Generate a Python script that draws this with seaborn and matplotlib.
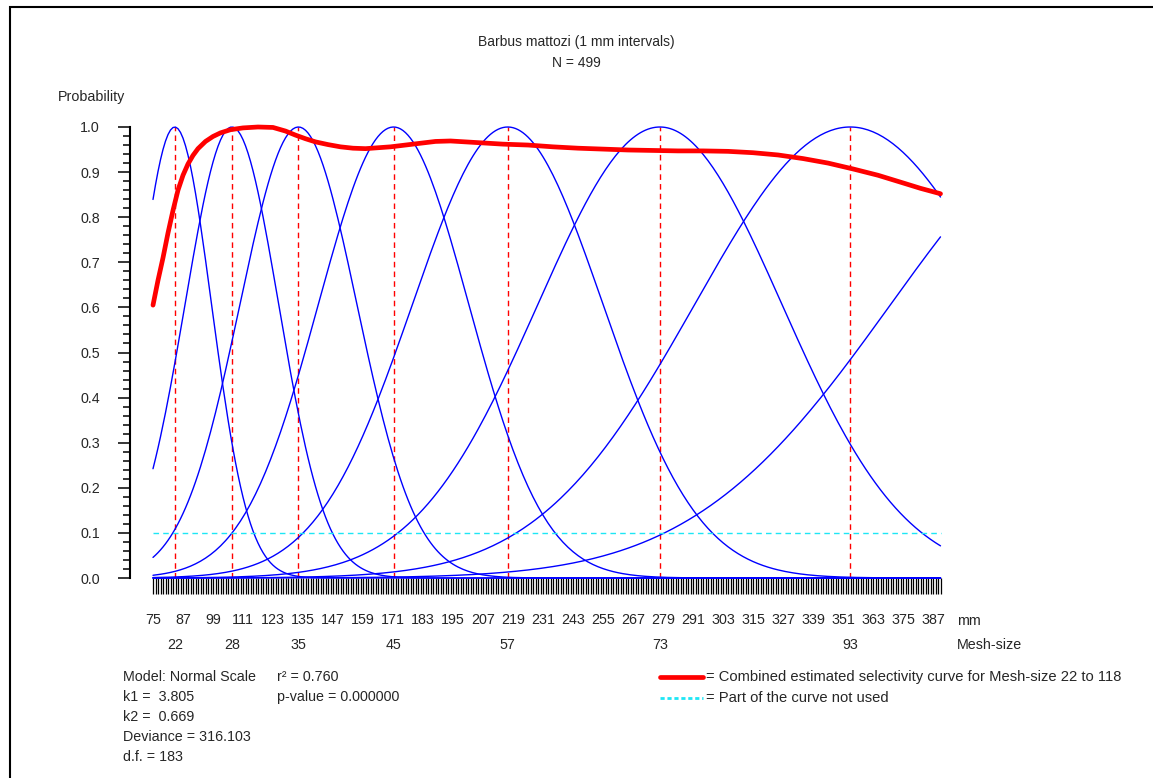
import numpy as np
import pandas as pd
import matplotlib
matplotlib.use("Agg")
import matplotlib.pyplot as plt
import seaborn as sns
from matplotlib.lines import Line2D
from matplotlib.patches import Rectangle

# ---------------- data ----------------
title = "Barbus mattozi (1 mm intervals)"
n_fish = 499
mesh_sizes = [22, 28, 35, 45, 57, 73, 93, 118]
k1 = 3.805
k2 = 0.669
length_min, length_max = 75, 390
length_ticks = list(range(75, 388, 12))

# combined estimated selectivity curve
comb_len = [75, 77, 79, 81, 83, 85, 87, 89, 91, 93, 96, 99, 102, 106, 111, 117,
            123, 128, 132, 136, 140, 145, 150, 155, 160, 165, 170, 176, 182, 188,
            194, 200, 206, 215, 225, 235, 245, 255, 265, 275, 285, 295, 305, 315,
            325, 335, 345, 355, 365, 375, 382, 390]
comb_prob = [0.605, 0.66, 0.71, 0.765, 0.815, 0.86, 0.893, 0.918, 0.937, 0.952, 0.968,
             0.979, 0.987, 0.994, 0.998, 1.0, 0.999, 0.991, 0.982, 0.974, 0.967,
             0.961, 0.956, 0.953, 0.952, 0.954, 0.956, 0.96, 0.964, 0.968, 0.969,
             0.967, 0.965, 0.962, 0.96, 0.956, 0.953, 0.951, 0.949, 0.948, 0.947,
             0.947, 0.946, 0.943, 0.938, 0.93, 0.92, 0.907, 0.893, 0.876, 0.864,
             0.852]

stats_left = ["Model: Normal Scale", "k1 =  3.805", "k2 =  0.669",
              "Deviance = 316.103", "d.f. = 183"]
stats_right = ["r\u00b2 = 0.760", "p-value = 0.000000"]

# ---------------- build curves from the fitted model (normal scale) ----------------
lengths = np.arange(length_min, length_max + 1)
rows = []
for m in mesh_sizes:
    mode = k1 * m
    sd = k2 * m
    p = np.exp(-(lengths - mode) ** 2 / (2 * sd ** 2))
    rows.append(pd.DataFrame({"length": lengths, "prob": p, "mesh": m}))
curves = pd.concat(rows, ignore_index=True)
combined = pd.DataFrame({"length": comb_len, "prob": comb_prob})
peaks = [k1 * m for m in mesh_sizes if k1 * m <= length_max]
peak_mesh = [m for m in mesh_sizes if k1 * m <= length_max]

# ---------------- plot ----------------
sns.set_style("white")
plt.rcParams['font.family'] = ['Liberation Sans', 'DejaVu Sans']
plt.rcParams['font.size'] = 10

W, H = 1153, 778
fig = plt.figure(figsize=(W / 100, H / 100), dpi=100)
fx = lambda px: px / W
fy = lambda py: 1 - py / H

# 2.5 px per mm, 75 mm at x=153 px
ax = fig.add_axes([fx(130), fy(578), fx(945.5) - fx(130), fy(127) - fy(578)])

sns.lineplot(data=curves, x="length", y="prob", hue="mesh", units="mesh",
             estimator=None, palette=["#0000ff"] * len(mesh_sizes), lw=1,
             legend=False, ax=ax, clip_on=False)
ax.vlines(peaks, 0, 1, colors="#ff0000", linestyles=(0, (4, 3)), lw=1, zorder=1)
ax.hlines(0.1, length_min, length_max, colors="#1ee6f5", linestyles=(0, (4, 3)), lw=1)
sns.lineplot(data=combined, x="length", y="prob", color="#ff0000", lw=3.4,
             ax=ax, clip_on=False, zorder=5)

ax.set_xlim(65.8, 392)
ax.set_ylim(0, 1)
ax.set_xlabel("")
ax.set_ylabel("")

for s in ["top", "right", "bottom"]:
    ax.spines[s].set_visible(False)
ax.spines["left"].set_linewidth(1.5)
ax.spines["left"].set_color("black")

ax.set_xticks(length_ticks)
ax.set_xticks(lengths, minor=True)
ax.set_xticklabels([str(t) for t in length_ticks])
ax.tick_params(axis="x", which="both", direction="out", length=11.5, width=0.9,
               color="black", bottom=True)
ax.tick_params(axis="x", which="major", pad=13.5, labelsize=10.3)

yt = np.round(np.arange(0, 1.01, 0.1), 1)
ax.set_yticks(yt)
ax.set_yticklabels([f"{v:.1f}" for v in yt])
ax.set_yticks(np.arange(0, 1.001, 0.02), minor=True)
ax.tick_params(axis="y", which="major", direction="out", length=8.6, width=1.1,
               color="black", left=True, pad=13, labelsize=10.3)
ax.tick_params(axis="y", which="minor", direction="out", length=5, width=1.1,
               color="black", left=True)

# mesh-size labels under the length axis
for pk, m in zip(peaks, peak_mesh):
    ax.annotate(str(m), xy=(pk, 0), xycoords=("data", "axes fraction"),
                xytext=(0, -48), textcoords="offset points",
                ha="center", va="center", fontsize=10.3)

fig.text(fx(957), fy(621), "mm", ha="left", va="center", fontsize=10.3)
fig.text(fx(957), fy(645), "Mesh-size", ha="left", va="center", fontsize=10.3)
fig.text(fx(58), fy(97), "Probability", ha="left", va="center", fontsize=10.3)

fig.text(0.5, fy(42), title, ha="center", va="center", fontsize=10)
fig.text(0.5, fy(63), f"N = {n_fish}", ha="center", va="center", fontsize=10)

for i, s in enumerate(stats_left):
    fig.text(fx(123), fy(677 + 20.1 * i), s, ha="left", va="center", fontsize=10.3)
for i, s in enumerate(stats_right):
    fig.text(fx(277), fy(677 + 20.1 * i), s, ha="left", va="center", fontsize=10.3)

# legend keys
fig.add_artist(Line2D([fx(660), fx(703)], [fy(677), fy(677)], color="#ff0000", lw=3.4))
fig.add_artist(Line2D([fx(660), fx(703)], [fy(698), fy(698)], color="#1ee6f5", lw=2,
                      linestyle=(0, (1.5, 1))))
fig.text(fx(706), fy(677),
         f"= Combined estimated selectivity curve for Mesh-size {mesh_sizes[0]} to {mesh_sizes[-1]}",
         ha="left", va="center", fontsize=10.6)
fig.text(fx(706), fy(698), "= Part of the curve not used", ha="left", va="center", fontsize=10.6)

# frame around the picture
fig.add_artist(Rectangle((fx(9.5), -0.05), 1.2, fy(6.5) + 0.05, transform=fig.transFigure,
                         fill=False, edgecolor="black", lw=1.5))

fig.savefig("out.png", dpi=100)
